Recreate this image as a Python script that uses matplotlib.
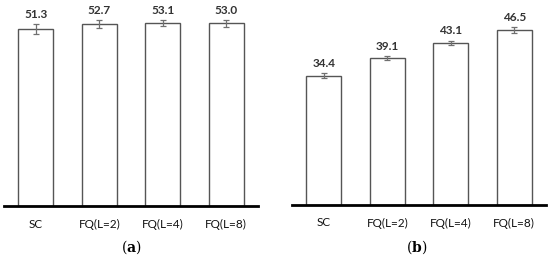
import numpy as np
import matplotlib
matplotlib.use("Agg")
import matplotlib.pyplot as plt

plt.rcParams['font.family'] = ['Lato', 'DejaVu Sans']
plt.rcParams['mathtext.fontset'] = 'dejavuserif'

categories = ["SC", "FQ(L=2)", "FQ(L=4)", "FQ(L=8)"]
values_a = [51.3, 52.7, 53.1, 53.0]
errors_a = [1.45, 1.2, 0.9, 1.0]
values_b = [34.4, 39.1, 43.1, 46.5]
errors_b = [0.7, 0.5, 0.6, 0.9]
captions = ["a", "b"]

fig = plt.figure(figsize=(5.5, 2.58), dpi=100)
W, H = 550, 258

panels = [
    # (left px, right px, baseline px, ymax, caption x px)
    (4, 258, 206, 59.7, values_a, errors_a, 131),
    (292, 546, 205, 54.5, values_b, errors_b, 417),
]

x = np.arange(len(categories))
for (l, r, base, ymax, vals, errs, capx), cap in zip(panels, captions):
    ax = fig.add_axes([l / W, 1 - base / H, (r - l) / W, base / H])
    ax.bar(x, vals, width=0.55, color="white", edgecolor="#555555", linewidth=1.0, zorder=2)
    ax.errorbar(x, vals, yerr=errs, fmt="none", ecolor="#707070", elinewidth=0.9,
                capsize=2.2, capthick=0.9, zorder=3)
    for xi, v, e in zip(x, vals, errs):
        ax.annotate(f"{v:.1f}", (xi, v + e), xytext=(0, 3), textcoords="offset points",
                    ha="center", va="bottom", fontsize=8.5, fontweight="bold", color="#333333")
    ax.set_xlim(-0.5, 3.5)
    ax.set_ylim(0, ymax)
    ax.set_xticks(x)
    ax.set_xticklabels(categories, fontsize=8.5, color="#111111")
    ax.tick_params(axis="x", length=0, pad=9)
    ax.set_yticks([])
    for s in ["top", "right", "left"]:
        ax.spines[s].set_visible(False)
    ax.spines["bottom"].set_linewidth(2.0)
    ax.spines["bottom"].set_color("black")
    fig.text(capx / W, 1 - 247 / H, r"$(\mathbf{" + cap + r"})$", fontsize=10,
             ha="center", va="center")

plt.savefig("out.png", dpi=100)
